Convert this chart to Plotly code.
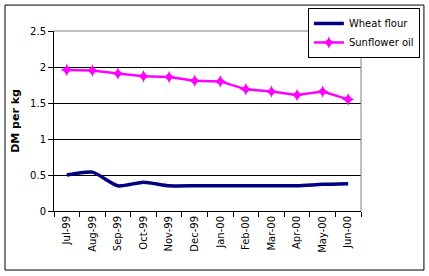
import plotly.graph_objects as go

months = ["Jul-99", "Aug-99", "Sep-99", "Oct-99", "Nov-99", "Dec-99",
          "Jan-00", "Feb-00", "Mar-00", "Apr-00", "May-00", "Jun-00"]
wheat_flour = [0.50, 0.54, 0.35, 0.40, 0.35, 0.35, 0.35, 0.35, 0.35, 0.35, 0.37, 0.38]
sunflower_oil = [1.96, 1.95, 1.91, 1.87, 1.86, 1.81, 1.80, 1.69, 1.66, 1.61, 1.66, 1.55]

FONT = "DejaVu Sans, Verdana, sans-serif"

fig = go.Figure()
fig.add_trace(go.Scatter(x=months, y=wheat_flour, name="Wheat flour", mode="lines",
                         line=dict(color="#000080", width=3.5, shape="spline", smoothing=0.6)))
fig.add_trace(go.Scatter(x=months, y=sunflower_oil, name="Sunflower oil", mode="lines+markers",
                         line=dict(color="#FF00FF", width=2.5),
                         marker=dict(symbol="star-diamond", size=9, color="#FF00FF")))

fig.update_layout(
    width=429, height=276,
    margin=dict(l=54, r=68, t=31, b=65, autoexpand=False),
    paper_bgcolor="white", plot_bgcolor="white",
    font=dict(family=FONT, size=10, color="black"),
    showlegend=True,
    legend=dict(x=0.827, y=1.128, xanchor="left", yanchor="top",
                bordercolor="black", borderwidth=1, bgcolor="white",
                font=dict(family=FONT, size=10), tracegroupgap=0,
                itemwidth=30),
    xaxis=dict(type="category", tickson="boundaries", ticks="outside", ticklen=5,
               tickcolor="black", tickangle=-90, showline=True, linecolor="black",
               showgrid=False, tickfont=dict(family=FONT, size=10), range=[-0.5, 11.5],
               automargin=False),
    yaxis=dict(range=[0, 2.5], dtick=0.5, ticks="outside", ticklen=5, tickcolor="black",
               showline=True, linecolor="black", gridcolor="black", gridwidth=1,
               zeroline=False, tickfont=dict(family=FONT, size=10), automargin=False,
               title=dict(text="<b>DM per kg</b>", font=dict(family=FONT, size=11), standoff=8)),
    shapes=[
        dict(type="line", xref="paper", yref="paper", x0=0, x1=1, y0=1, y1=1,
             line=dict(color="#808080", width=1)),
        dict(type="line", xref="paper", yref="paper", x0=1, x1=1, y0=0, y1=1,
             line=dict(color="#808080", width=1)),
        dict(type="rect", xref="paper", yref="paper", x0=-0.1596, x1=1.205, y0=-0.328, y1=1.144,
             line=dict(color="black", width=1)),
    ],
)

fig.write_html("out.html", config={"displayModeBar": False},
               post_script="document.body.style.margin='0';document.body.style.overflow='hidden';")
